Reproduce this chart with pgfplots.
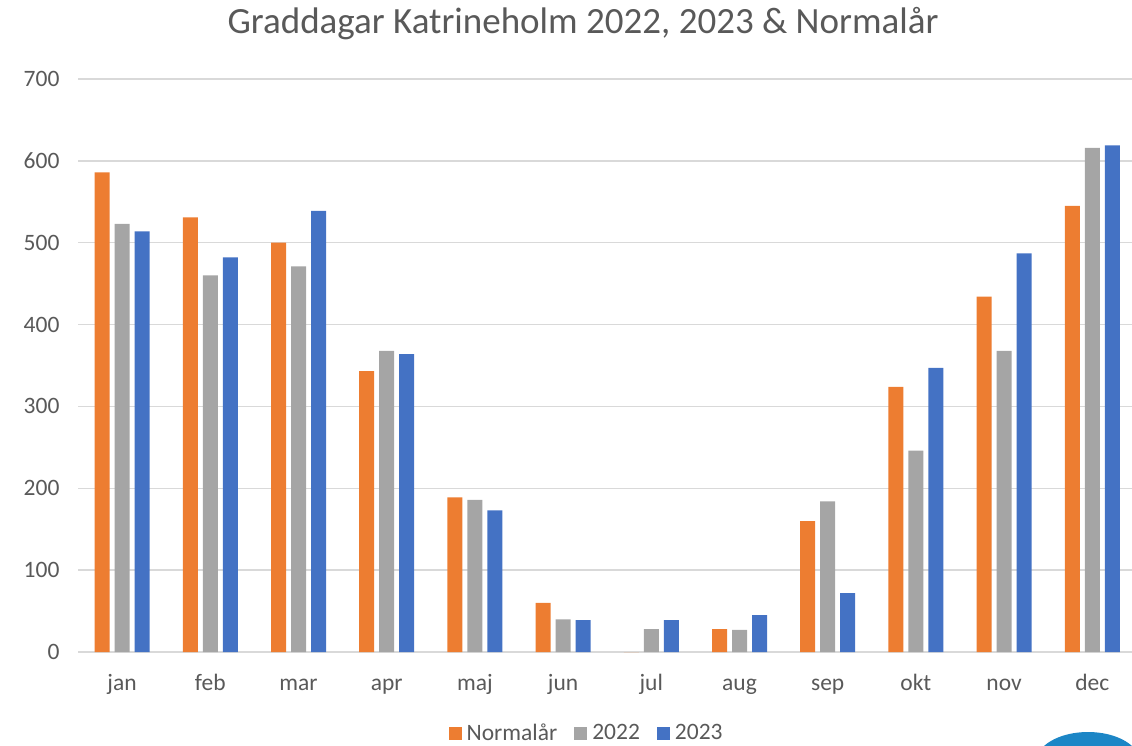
\documentclass[border=0pt]{standalone}
\usepackage{fontspec}
\setmainfont{Carlito}
\usepackage{pgfplots}
\pgfplotsset{compat=1.18}
\definecolor{normal}{HTML}{ED7D31}
\definecolor{y22}{HTML}{A5A5A5}
\definecolor{y23}{HTML}{4472C4}
\definecolor{gridc}{HTML}{D9D9D9}
\definecolor{txt}{HTML}{595959}
\definecolor{logo}{HTML}{1C86C6}

\begin{document}
\begin{tikzpicture}[x=1pt,y=1pt]
\useasboundingbox (0,0) rectangle (1132,745);
\fill[logo] (1088,-17) ellipse (52 and 30);
\node[txt,font=\fontsize{37}{40}\selectfont] at (583,721) {Graddagar Katrineholm 2022, 2023 \& Normalår};
\begin{axis}[
  at={(78pt,93pt)}, anchor=south west,
  scale only axis, width=1054pt, height=573pt,
  ybar=5pt, bar width=15pt,
  xmin=-0.5, xmax=11.45, ymin=0, ymax=700,
  xtick={0,...,11},
  xticklabels={jan,feb,mar,apr,maj,jun,jul,aug,sep,okt,nov,dec},
  ytick={0,100,...,700},
  major tick length=0pt,
  axis line style={draw=none},
  ymajorgrids, grid style={gridc, line width=1.4pt},
  tick label style={txt, font=\fontsize{23.5}{26}\selectfont},
  /pgf/number format/assume math mode=true,
  yticklabel style={xshift=-15pt},
  xticklabel style={anchor=base, yshift=-38pt},
  legend columns=3,
  legend style={at={(axis description cs:0.484,0)}, anchor=center, yshift=-81pt,
    draw=none, fill=none, font=\fontsize{23.5}{26}\selectfont, text=txt,
    nodes={inner xsep=5pt, inner ysep=1pt},
    /tikz/every even column/.append style={column sep=12pt}},
  legend image code/.code={\fill[#1] (0pt,-6.5pt) rectangle (13pt,6.5pt);},
]
\addplot[fill=normal, draw=none] coordinates {
 (0,586) (1,531) (2,500) (3,343) (4,189) (5,60) (6,0) (7,28) (8,160) (9,324) (10,434) (11,545)};
\addplot[fill=y22, draw=none] coordinates {
 (0,523) (1,460) (2,471) (3,368) (4,186) (5,40) (6,28) (7,27) (8,184) (9,246) (10,368) (11,616)};
\addplot[fill=y23, draw=none] coordinates {
 (0,514) (1,482) (2,539) (3,364) (4,173) (5,39) (6,39) (7,45) (8,72) (9,347) (10,487) (11,619)};
\legend{Normalår,2022,2023}
\end{axis}
\end{tikzpicture}
\end{document}
